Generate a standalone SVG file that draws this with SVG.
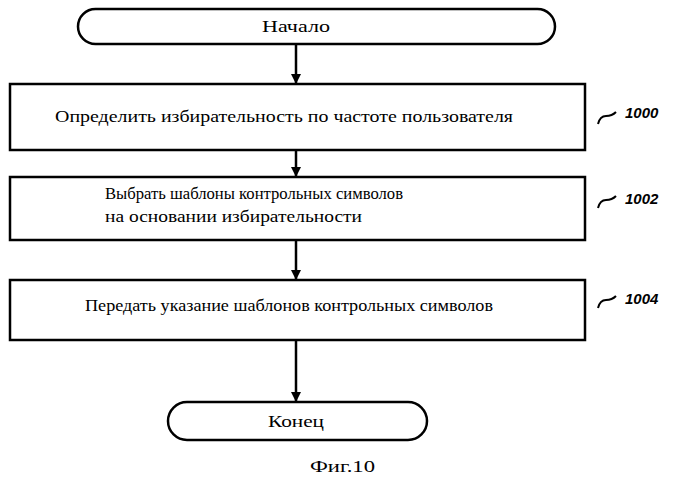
<svg xmlns="http://www.w3.org/2000/svg" width="699" height="491" viewBox="0 0 699 491">
<style>
.s{fill:#fff;stroke:#000;stroke-width:2.5}
.t{font-family:"Liberation Serif",serif;font-size:17px;fill:#000}
.r{font-family:"Liberation Sans",sans-serif;font-size:15px;font-style:italic;font-weight:bold;fill:#000}
.c{fill:none;stroke:#000;stroke-width:2.5}
.q{fill:none;stroke:#000;stroke-width:2}
</style>
<defs><marker id="a" markerWidth="10" markerHeight="10" refX="9" refY="5" orient="auto" markerUnits="userSpaceOnUse"><path d="M0,0 L10,5 L0,10 z" fill="#000"/></marker></defs>
<rect width="699" height="491" fill="#fff"/>
<g id="connectors">
<line class="c" x1="296" y1="45" x2="296" y2="83" marker-end="url(#a)"/>
<line class="c" x1="296" y1="151" x2="296" y2="176" marker-end="url(#a)"/>
<line class="c" x1="296" y1="241" x2="296" y2="279" marker-end="url(#a)"/>
<line class="c" x1="296" y1="341" x2="296" y2="401" marker-end="url(#a)"/>
</g>
<g id="start"><rect class="s" x="78" y="9" width="477" height="35" rx="17.5"/><text class="t" x="262" y="32" textLength="68" lengthAdjust="spacingAndGlyphs">Начало</text></g>
<g id="n1000"><rect class="s" x="10" y="84" width="575" height="66"/><text class="t" x="55" y="122" textLength="458" lengthAdjust="spacingAndGlyphs">Определить избирательность по частоте пользователя</text>
<path class="q" d="M598,124 q2,-8 8,-8 q6,0 10,-4"/><text class="r" x="625" y="118">1000</text></g>
<g id="n1002"><rect class="s" x="10" y="177" width="575" height="63"/><text class="t" x="105" y="199" textLength="298" lengthAdjust="spacingAndGlyphs">Выбрать шаблоны контрольных символов</text><text class="t" x="105" y="222" textLength="257" lengthAdjust="spacingAndGlyphs">на основании избирательности</text>
<path class="q" d="M598,208 q2,-8 8,-8 q6,0 10,-4"/><text class="r" x="625" y="204">1002</text></g>
<g id="n1004"><rect class="s" x="10" y="280" width="575" height="60"/><text class="t" x="85" y="311" textLength="408" lengthAdjust="spacingAndGlyphs">Передать указание шаблонов контрольных символов</text>
<path class="q" d="M598,308 q2,-8 8,-8 q6,0 10,-4"/><text class="r" x="625" y="304">1004</text></g>
<g id="end"><rect class="s" x="168" y="402" width="259" height="38" rx="19"/><text class="t" x="268" y="427" textLength="56" lengthAdjust="spacingAndGlyphs">Конец</text></g>
<text class="t" x="310" y="472" textLength="65" lengthAdjust="spacingAndGlyphs" font-size="18">Фиг.10</text>
</svg>
